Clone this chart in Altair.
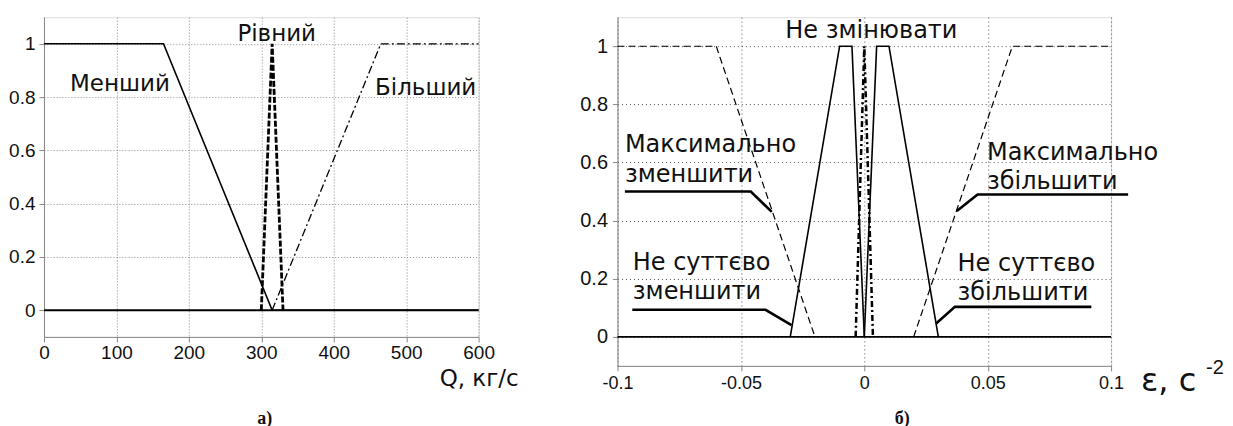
import altair as alt
import pandas as pd

# ---------------- Panel а) ----------------
a_less_x = [0, 165, 315, 600]
a_less_y = [1, 1, 0, 0]
a_equal_x = [300, 315, 330]
a_equal_y = [0, 1, 0]
a_more_x = [315, 465, 600]
a_more_y = [0, 1, 1]
a_zero_x = [0, 600]
a_zero_y = [0, 0]
a_xticks = [0, 100, 200, 300, 400, 500, 600]
a_yticks = [0, 0.2, 0.4, 0.6, 0.8, 1]
a_labels = ["Менший", "Рівний", "Більший"]
a_label_x = [36, 267, 457]
a_label_y = [0.824, 1.011, 0.809]
a_axis_title = "Q, кг/с"
a_panel = "а)"

# ---------------- Panel б) ----------------
b_maxdec_x = [-0.1, -0.06, -0.02]
b_maxdec_y = [1, 1, 0]
b_smalldec_x = [-0.03, -0.01, -0.005, 0]
b_smalldec_y = [0, 1, 1, 0]
b_keep_x = [-0.0035, 0, 0.0035]
b_keep_y = [0, 1, 0]
b_smallinc_x = [0, 0.005, 0.01, 0.03]
b_smallinc_y = [0, 1, 1, 0]
b_maxinc_x = [0.02, 0.06, 0.1]
b_maxinc_y = [0, 1, 1]
b_zero_x = [-0.1, 0.1]
b_zero_y = [0, 0]
b_xticks = [-0.1, -0.05, 0, 0.05, 0.1]
b_yticks = [0, 0.2, 0.4, 0.6, 0.8, 1]
b_labels = ["Не змінювати", "Максимально", "зменшити", "Не суттєво", "зменшити",
            "Максимально", "збільшити", "Не суттєво", "збільшити"]
b_label_x = [-0.032, -0.097, -0.097, -0.0938, -0.0938, 0.0497, 0.0497, 0.0378, 0.0378]
b_label_y = [1.027, 0.636, 0.533, 0.230, 0.131, 0.608, 0.509, 0.227, 0.127]
b_leader_group = [0, 0, 0, 1, 1, 1, 2, 2, 2, 3, 3, 3]
b_leader_x = [-0.097, -0.046, -0.0375, -0.094, -0.040, -0.0295,
              0.0375, 0.0459, 0.1069, 0.029, 0.0367, 0.092]
b_leader_y = [0.5, 0.5, 0.43, 0.093, 0.093, 0.04,
              0.433, 0.49, 0.49, 0.045, 0.103, 0.103]
b_axis_title = "ε, с"
b_axis_sup = "-2"
b_panel = "б)"

LABEL_FONT = "DejaVu Sans"
TICK_FONT = "Liberation Sans"


def make_enc(xdom, xticks, ydom, yticks, xpad, ypad, xfs, yfs, grid_color, grid_dash):
    xaxis = alt.Axis(values=xticks, title=None, labelPadding=xpad, labelFontSize=xfs,
                     labelFlush=False, labelOverlap=False, labelFont=TICK_FONT,
                     labelColor="#111", grid=True, gridColor=grid_color, gridDash=grid_dash,
                     labelExpr="datum.value < 0 ? '-' + format(-datum.value, '~g') : format(datum.value, '~g')")
    yaxis = alt.Axis(values=yticks, title=None, labelPadding=ypad, labelFontSize=yfs,
                     labelOverlap=False, labelFont=TICK_FONT, labelColor="#111",
                     grid=True, gridColor=grid_color, gridDash=grid_dash,
                     labelExpr="format(datum.value, '~g')")
    X = alt.X("x:Q", scale=alt.Scale(domain=xdom, nice=False, zero=False), axis=xaxis)
    Y = alt.Y("y:Q", scale=alt.Scale(domain=ydom, nice=False, zero=False), axis=yaxis)
    return X, Y


def line(xs, ys, X, Y, **mark):
    df = pd.DataFrame({"x": xs, "y": ys, "i": list(range(len(xs)))})
    return alt.Chart(df).mark_line(color="black", **mark).encode(x=X, y=Y, order="i:Q")


def texts(labels, xs, ys, X, Y, **mark):
    df = pd.DataFrame({"t": labels, "x": xs, "y": ys})
    return alt.Chart(df).mark_text(align="left", baseline="alphabetic", color="#111",
                                   font=LABEL_FONT, **mark).encode(x=X, y=Y, text="t:N")


def free_text(txt, px, py, **mark):
    df = pd.DataFrame({"t": [txt]})
    return alt.Chart(df).mark_text(color="#111", **mark).encode(
        x=alt.value(px), y=alt.value(py), text="t:N")


# ---------- left panel ----------
aX, aY = make_enc([0, 600], a_xticks, [-0.1, 1.1], a_yticks, 2, 4, 19, 19, "#8a8a8a", [1, 2])
left = alt.layer(
    line(a_more_x, a_more_y, aX, aY, strokeWidth=1.3, strokeDash=[8, 3, 2, 3]),
    line(a_equal_x, a_equal_y, aX, aY, strokeWidth=2.8, strokeDash=[6, 2]),
    line(a_zero_x, a_zero_y, aX, aY, strokeWidth=1.8),
    line(a_less_x, a_less_y, aX, aY, strokeWidth=1.6),
    texts(a_labels, a_label_x, a_label_y, aX, aY, fontSize=23),
    free_text(a_axis_title, 396, 369, align="left", baseline="alphabetic",
              font=LABEL_FONT, fontSize=23),
    free_text(a_panel, 221, 407, align="center", baseline="alphabetic",
              font="Liberation Serif", fontWeight="bold", fontSize=18),
).properties(width=435, height=320)

# ---------- right panel ----------
bX, bY = make_enc([-0.1, 0.1], b_xticks, [-0.1, 1.1], b_yticks, 4, 5, 18, 20, "#555555", [1, 3])
leader_df = pd.DataFrame({"x": b_leader_x, "y": b_leader_y, "g": b_leader_group,
                          "i": list(range(len(b_leader_x)))})
leaders = alt.Chart(leader_df).mark_line(color="black", strokeWidth=2.6).encode(
    x=bX, y=bY, detail="g:N", order="i:Q")
right = alt.layer(
    line(b_maxdec_x, b_maxdec_y, bX, bY, strokeWidth=1.2, strokeDash=[7, 4]),
    line(b_maxinc_x, b_maxinc_y, bX, bY, strokeWidth=1.2, strokeDash=[7, 4]),
    line(b_keep_x, b_keep_y, bX, bY, strokeWidth=2.5, strokeDash=[6, 3, 2, 3]),
    line(b_zero_x, b_zero_y, bX, bY, strokeWidth=1.8),
    line(b_smalldec_x, b_smalldec_y, bX, bY, strokeWidth=1.6),
    line(b_smallinc_x, b_smallinc_y, bX, bY, strokeWidth=1.6),
    leaders,
    texts(b_labels, b_label_x, b_label_y, bX, bY, fontSize=24),
    free_text(b_axis_title, 524, 374, align="left", baseline="alphabetic",
              font=LABEL_FONT, fontSize=32),
    free_text(b_axis_sup, 589, 357, align="left", baseline="alphabetic",
              font=TICK_FONT, fontSize=20),
    free_text(b_panel, 285, 407, align="center", baseline="alphabetic",
              font="Liberation Serif", fontWeight="bold", fontSize=18),
).properties(width=494, height=349)

chart = alt.hconcat(left, right, spacing=139, bounds="flush").properties(
    padding={"left": 0, "top": 8, "right": 0, "bottom": 0}
).configure_view(stroke="#8c8c8c", strokeWidth=1.5).configure_axis(
    domain=False, ticks=False
).configure(background="white")

chart.save("out.html", embed_options={"renderer": "svg", "actions": False})
